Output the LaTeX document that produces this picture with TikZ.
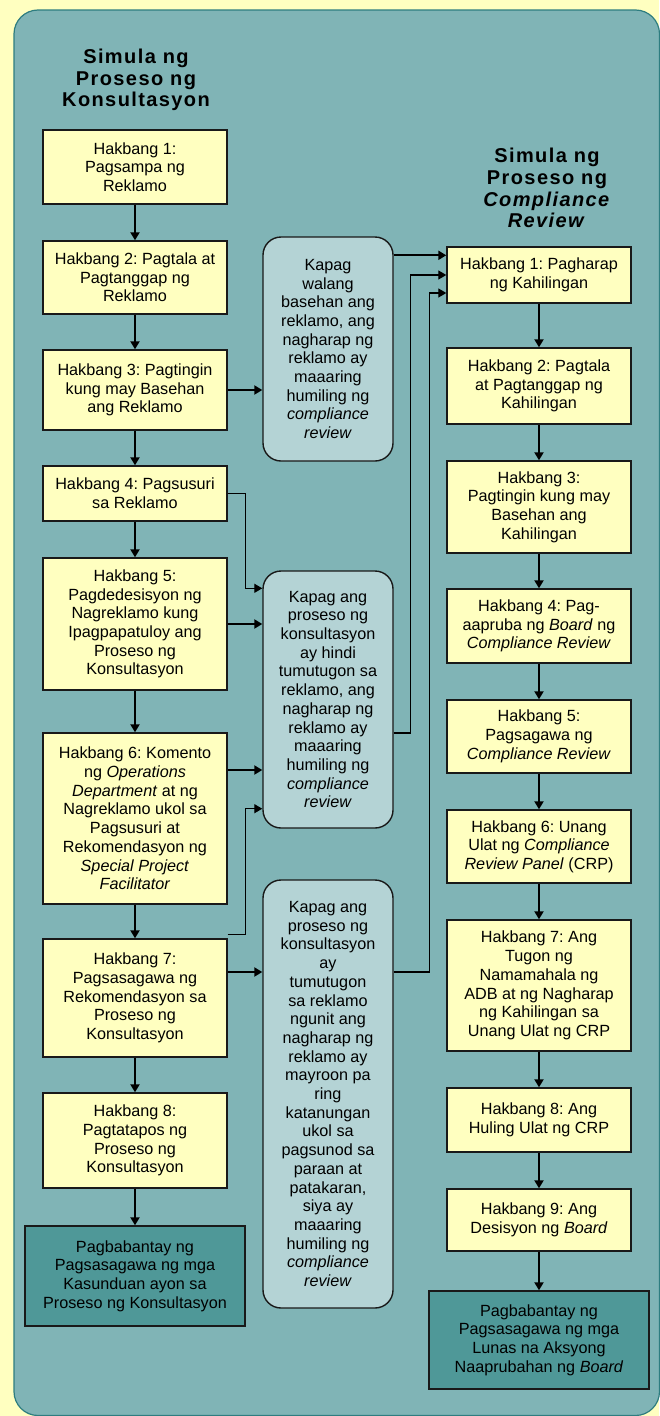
\documentclass[tikz,border=0pt]{standalone}
\usepackage{fontspec}
\setmainfont{Liberation Sans}
\newfontfamily\titlefont[LetterSpace=7]{Liberation Sans}
\usetikzlibrary{arrows.meta,calc}
\definecolor{bgyellow}{HTML}{FFFFC0}
\definecolor{frameteal}{HTML}{80B4B6}
\definecolor{frameedge}{HTML}{2E7D80}
\definecolor{boxyellow}{HTML}{FFFFC0}
\definecolor{callfill}{HTML}{B4D3D5}
\definecolor{endfill}{HTML}{4F9898}
\frenchspacing
\begin{document}
\begin{tikzpicture}[x=1pt,y=-1pt,
  base/.style={draw=black!90, line width=1.4pt, align=center, inner sep=0pt,
    font=\frenchspacing\fontsize{16.2}{18.7}\selectfont},
  ybox/.style={base, fill=boxyellow},
  callout/.style={base, fill=callfill, rounded corners=18pt},
  endbox/.style={base, fill=endfill},
  titletext/.style={align=center, inner sep=0pt,
    font=\titlefont\bfseries\fontsize{20}{21.7}\selectfont},
  arr/.style={-{Triangle[length=8pt,width=9pt]}, line width=2pt},
  elbow/.style={-{Triangle[length=8pt,width=9pt]}, line width=1.3pt}
]
\fill[bgyellow] (0,0) rectangle (659,1416);
\useasboundingbox (0,0) rectangle (659,1416);
\draw[frameedge, fill=frameteal, line width=1.2pt, rounded corners=24pt] (14,10) rectangle (659.5,1415.5);

% titles
\node[titletext] (T1) at (136,80) {Simula ng\\Proseso ng\\Konsultasyon};
\node[titletext] (T2) at (547,188) {Simula ng\\Proseso ng\\\textit{Compliance}\\\textit{Review}};

% left column
\node[ybox, minimum width=184, minimum height=74] (L1) at (135,167) {Hakbang 1:\\Pagsampa ng\\Reklamo};
\node[ybox, minimum width=184, minimum height=73] (L2) at (135,277.5) {Hakbang 2: Pagtala at\\Pagtanggap ng\\Reklamo};
\node[ybox, minimum width=184, minimum height=80] (L3) at (135,390) {Hakbang 3: Pagtingin\\kung may Basehan\\ang Reklamo};
\node[ybox, minimum width=184, minimum height=55] (L4) at (135,493.5) {Hakbang 4: Pagsusuri\\sa Reklamo};
\node[ybox, minimum width=184, minimum height=132] (L5) at (135,624) {Hakbang 5:\\Pagdedesisyon ng\\Nagreklamo kung\\Ipagpapatuloy ang\\Proseso ng\\Konsultasyon};
\node[ybox, minimum width=184, minimum height=171] (L6) at (135,818.5) {Hakbang 6: Komento\\ng \textit{Operations}\\\textit{Department} at ng\\Nagreklamo ukol sa\\Pagsusuri at\\Rekomendasyon ng\\\textit{Special Project}\\\textit{Facilitator}};
\node[ybox, minimum width=184, minimum height=118] (L7) at (135,998) {Hakbang 7:\\Pagsasagawa ng\\Rekomendasyon sa\\Proseso ng\\Konsultasyon};
\node[ybox, minimum width=184, minimum height=95] (L8) at (135,1140.5) {Hakbang 8:\\Pagtatapos ng\\Proseso ng\\Konsultasyon};
\node[endbox, minimum width=220, minimum height=100] (LE) at (135,1276) {Pagbabantay ng\\Pagsasagawa ng mga\\Kasunduan ayon sa\\Proseso ng Konsultasyon};

% right column
\node[ybox, minimum width=184, minimum height=56] (R1) at (539,275) {Hakbang 1: Pagharap\\ng Kahilingan};
\node[ybox, minimum width=184, minimum height=76] (R2) at (539,386) {Hakbang 2: Pagtala\\at Pagtanggap ng\\Kahilingan};
\node[ybox, minimum width=184, minimum height=92] (R3) at (539,507) {Hakbang 3:\\Pagtingin kung may\\Basehan ang\\Kahilingan};
\node[ybox, minimum width=184, minimum height=74] (R4) at (539,626) {Hakbang 4: Pag-\\aapruba ng \textit{Board} ng\\\textit{Compliance Review}};
\node[ybox, minimum width=184, minimum height=73] (R5) at (539,736.5) {Hakbang 5:\\Pagsagawa ng\\\textit{Compliance Review}};
\node[ybox, minimum width=184, minimum height=73] (R6) at (539,846.5) {Hakbang 6: Unang\\Ulat ng \textit{Compliance}\\\textit{Review Panel} (CRP)};
\node[ybox, minimum width=184, minimum height=131] (R7) at (539,985.5) {Hakbang 7: Ang\\Tugon ng\\Namamahala ng\\ADB at ng Nagharap\\ng Kahilingan sa\\Unang Ulat ng CRP};
\node[ybox, minimum width=184, minimum height=64] (R8) at (539,1120) {Hakbang 8: Ang\\Huling Ulat ng CRP};
\node[ybox, minimum width=184, minimum height=62] (R9) at (539,1220) {Hakbang 9: Ang\\Desisyon ng \textit{Board}};
\node[endbox, minimum width=220, minimum height=98] (RE) at (539,1340) {Pagbabantay ng\\Pagsasagawa ng mga\\Lunas na Aksyong\\Naaprubahan ng \textit{Board}};

% callouts
\node[callout, minimum width=130, minimum height=224] (C1) at (328,349) {Kapag\\walang\\basehan ang\\reklamo, ang\\nagharap ng\\reklamo ay\\maaaring\\humiling ng\\\textit{compliance}\\\textit{review}};
\node[callout, minimum width=130, minimum height=257] (C2) at (328,699.5) {Kapag ang\\proseso ng\\konsultasyon\\ay hindi\\tumutugon sa\\reklamo, ang\\nagharap ng\\reklamo ay\\maaaring\\humiling ng\\\textit{compliance}\\\textit{review}};
\node[callout, minimum width=130, minimum height=428] (C3) at (328,1094) {Kapag ang\\proseso ng\\konsultasyon\\ay\\tumutugon\\sa reklamo\\ngunit ang\\nagharap ng\\reklamo ay\\mayroon pa\\ring\\katanungan\\ukol sa\\pagsunod sa\\paraan at\\patakaran,\\siya ay\\maaaring\\humiling ng\\\textit{compliance}\\\textit{review}};

% left vertical arrows
\foreach \a/\b in {L1/L2,L2/L3,L3/L4,L4/L5,L5/L6,L6/L7,L7/L8,L8/LE}
  \draw[arr] (\a.south) -- (\b.north);
% right vertical arrows
\foreach \a/\b in {R1/R2,R2/R3,R3/R4,R4/R5,R5/R6,R6/R7,R7/R8,R8/R9,R9/RE}
  \draw[arr] (\a.south) -- (\b.north);

% left to callouts
\draw[arr] (L3.east) -- (L3.east -| C1.west);
\draw[elbow] (L4.east) -- ++(18,0) |- ([yshift=-18pt]C2.north west);
\draw[arr] (L5.east) -- (L5.east -| C2.west);
\coordinate (l6o) at ([yshift=48.5pt]L6.east);
\draw[arr] (l6o) -- (l6o -| C2.west);
\draw[elbow] ([yshift=4pt]L7.north east) -- ++(18,0) |- ([yshift=20pt]C2.south west);
\coordinate (l7o) at ([yshift=26pt]L7.east);
\draw[arr] (l7o) -- (l7o -| C3.west);

% callouts to R1
\coordinate (c1o) at ([yshift=-19pt]C1.north east);
\draw[arr] (c1o) -- (c1o -| R1.west);
\coordinate (c2o) at ([yshift=-33.5pt]C2.east);
\draw[elbow] (c2o) -- ++(17,0) |- (R1.west);
\coordinate (c3o) at ([yshift=122pt]C3.east);
\draw[elbow] (c3o) -- ++(36,0) |- ([yshift=-18pt]R1.west);
\end{tikzpicture}
\end{document}
